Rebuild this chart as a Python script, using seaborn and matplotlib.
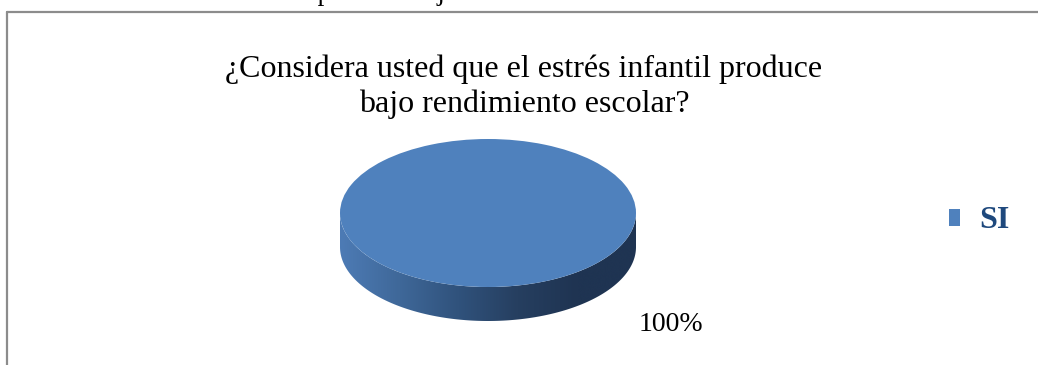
import numpy as np
import matplotlib
matplotlib.use("Agg")
import matplotlib.pyplot as plt
import seaborn as sns
from matplotlib.patches import Polygon
from matplotlib.lines import Line2D
from matplotlib.colors import LinearSegmentedColormap

# ---- data ----
categories = ["SI"]
values = [100]
percent_labels = ["100%"]
title_line1 = "¿Considera usted que el estrés infantil produce"
title_line2 = "bajo rendimiento escolar?"
caption_text = "Gráfico N° 4: Estrés infantil produce bajo rendimiento"

sns.set_theme(style="white")
plt.rcParams['font.family'] = ['Liberation Serif', 'DejaVu Serif']

top_color = sns.color_palette(["#4F81BD"])[0]
side_cmap = LinearSegmentedColormap.from_list(
    "side", ["#4D7BB5", "#3F6899", "#30527C", "#263F60", "#1F3452", "#1F3452"])

W, H = 1038, 365
fig = plt.figure(figsize=(W / 100, H / 100), dpi=100)
ax = fig.add_axes([0, 0, 1, 1])

# geometry (pixels); y data scaled x2 to flatten the pie into an ellipse
cx, cy, r, depth = 488, 213, 148, 34

# side of the 3D pie
t_bot = np.linspace(np.pi, 0, 300)
t_top = np.linspace(0, np.pi, 300)
pts = np.concatenate([
    np.column_stack([cx + r * np.cos(t_bot), 2 * (cy + depth) + r * np.sin(t_bot)]),
    np.column_stack([cx + r * np.cos(t_top), 2 * cy + r * np.sin(t_top)]),
])
side = Polygon(pts, closed=True, facecolor="none", edgecolor="none")
ax.add_patch(side)
grad = np.linspace(0, 1, 256).reshape(1, -1)
im = ax.imshow(grad, cmap=side_cmap, aspect="auto",
               extent=(cx - r, cx + r, 2 * (cy + depth) + r, 2 * cy - 2),
               interpolation="bicubic", zorder=1)
im.set_clip_path(side)

# top of the pie
wedges, _ = ax.pie(values, colors=[top_color], center=(cx, 2 * cy), radius=r,
                   startangle=90, counterclock=False,
                   wedgeprops=dict(edgecolor="none", zorder=2))

ax.set_aspect("auto")
ax.set_xlim(0, W)
ax.set_ylim(2 * H, 0)
ax.axis("off")

# percentage label
ax.text(639, 2 * 331, percent_labels[0], fontsize=20, color="black",
        ha="left", va="baseline", zorder=3)

# title
fig.text(524 / W, 1 - 77 / H, title_line1, ha="center", va="baseline",
         fontsize=23, color="black")
fig.text(524 / W, 1 - 112 / H, title_line2, ha="center", va="baseline",
         fontsize=23, color="black")

# legend
leg = ax.legend(wedges, categories, loc="center left",
                bbox_to_anchor=(949 / W, 1 - 221 / H), bbox_transform=fig.transFigure,
                frameon=False, prop=dict(family="Liberation Serif", weight="bold", size=23),
                labelcolor="#1F497D", handlelength=0.35, handleheight=0.45,
                handletextpad=0.6, borderpad=0, borderaxespad=0)

# chart area border (clipped at right/bottom)
border_color = "#8C8C8C"
fig.add_artist(Line2D([6.5 / W, 6.5 / W], [1 - 11.5 / H, -0.1], transform=fig.transFigure,
                      color=border_color, lw=1.6))
fig.add_artist(Line2D([6.5 / W, 1.1], [1 - 11.5 / H, 1 - 11.5 / H], transform=fig.transFigure,
                      color=border_color, lw=1.6))

# caption above the chart, cut off by the top edge as in the source
fig.text(5 / W, 1.0, caption_text, ha="left", va="baseline",
         fontsize=19.5, color="black")

fig.savefig("out.png", dpi=100)
